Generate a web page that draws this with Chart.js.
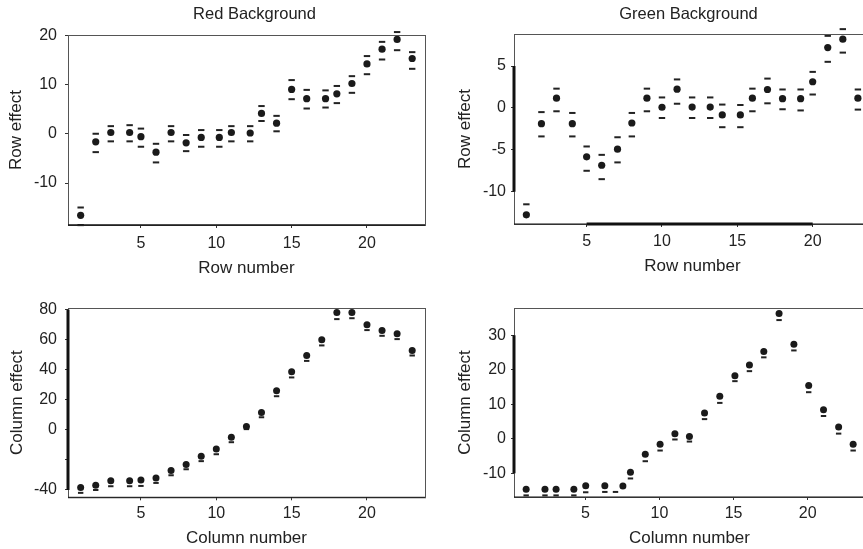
<!DOCTYPE html>
<html>
<head>
<meta charset="utf-8">
<script src="https://cdn.jsdelivr.net/npm/chart.js@4.4.0/dist/chart.umd.min.js"></script>
<style>
  html, body { margin: 0; padding: 0; background: #fff; }
  body { width: 863px; height: 549px; position: relative; overflow: hidden; }
  .panel { position: absolute; }
</style>
</head>
<body>
<div class="panel" style="left:0;top:0;width:509px;height:280px"><canvas id="rowRed"></canvas></div>
<div class="panel" style="left:430px;top:0;width:517px;height:280px"><canvas id="rowGreen"></canvas></div>
<div class="panel" style="left:0;top:280px;width:431px;height:269px"><canvas id="colRed"></canvas></div>
<div class="panel" style="left:430px;top:280px;width:441px;height:269px"><canvas id="colGreen"></canvas></div>
<script>
// tick values shared by all x axes
const xTicks = [5, 10, 15, 20];

// Red background, row effects (dot, upper and lower bound dashes)
const rowRedX = [1, 2, 3, 4.25, 5, 6, 7, 8, 9, 10.2, 11, 12.25, 13, 14, 15, 16, 17.25, 18, 19, 20, 21, 22, 23];
const rowRedEffect = [-16.6, -1.6, 0.3, 0.3, -0.55, -3.7, 0.3, -1.8, -0.7, -0.7, 0.3, 0.2, 4.2, 2.2, 9.1, 7.2, 7.2, 8.2, 10.3, 14.3, 17.3, 19.3, 15.4];
const rowRedUpper = [-15.0, 0.05, 1.6, 1.8, 1.1, -2.0, 1.6, -0.2, 0.8, 0.8, 1.6, 1.6, 5.7, 3.7, 11.0, 9.0, 8.9, 9.8, 11.8, 15.9, 18.8, 20.8, 16.7];
const rowRedLower = [-18.6, -3.7, -1.5, -1.5, -2.6, -5.8, -1.5, -3.5, -2.6, -2.6, -1.5, -1.5, 2.65, 0.55, 7.1, 5.2, 5.4, 6.3, 8.4, 12.2, 15.2, 17.1, 13.3];
const rowRedYTicks = [-10, 0, 10, 20];

// Green background, row effects
const rowGreenX = [1, 2, 3, 4.05, 5, 6, 7.05, 8, 9, 10, 11, 12, 13.2, 14, 15.2, 16, 17, 18, 19.2, 20, 21, 22, 23];
const rowGreenEffect = [-12.76, -1.88, 1.16, -1.88, -5.84, -6.84, -4.92, -1.8, 1.16, 0.08, 2.24, 0.1, 0.1, -0.84, -0.84, 1.16, 2.2, 1.1, 1.1, 3.12, 7.2, 8.2, 1.16];
const rowGreenUpper = [-11.5, -0.5, 2.3, -0.6, -4.6, -5.6, -3.5, -0.6, 2.3, 1.25, 3.4, 1.25, 1.25, 0.4, 0.35, 2.3, 3.5, 2.2, 2.2, 4.3, 8.6, 9.4, 2.2];
const rowGreenLower = [-14.6, -3.4, -0.4, -3.4, -7.5, -8.5, -6.5, -3.4, -0.4, -1.2, 0.5, -1.2, -1.2, -2.3, -2.3, -0.4, 0.55, -0.16, -0.3, 1.6, 5.5, 6.6, -0.2];
const rowGreenYTicks = [-10, -5, 0, 5];

// Red background, column effects
const colRedX = [1, 2, 3, 4.25, 5, 6, 7, 8, 9, 10, 11, 12, 13, 14, 15, 16, 17, 18, 19, 20, 21, 22, 23];
const colRedEffect = [-38.4, -36.8, -33.9, -33.9, -33.3, -32.1, -27.0, -23.0, -17.5, -12.8, -4.9, 2.3, 11.6, 26.0, 38.6, 49.5, 59.9, 78.1, 78.1, 69.9, 66.1, 63.9, 52.8];
const colRedLower = [-41.9, -40.0, -37.5, -37.5, -37.3, -35.3, -30.2, -26.2, -20.8, -16.2, -8.2, 0.5, 8.4, 22.4, 34.9, 45.9, 56.2, 73.7, 74.3, 66.4, 62.6, 60.4, 49.5];
const colRedYTicks = [-40, -20, 0, 20, 40, 60, 80];
const colRedYLabels = ["-40", "", "0", "20", "40", "60", "80"];

// Green background, column effects
const colGreenX = [1, 2.27, 3.02, 4.22, 5.02, 6.31, 7.53, 8.04, 9.04, 10.04, 11.04, 12.02, 13.04, 14.07, 15.09, 16.07, 17.04, 18.07, 19.07, 20.07, 21.07, 22.09, 23.07];
const colGreenEffect = [-14.6, -14.6, -14.6, -14.6, -13.6, -13.6, -13.7, -9.7, -4.5, -1.6, 1.45, 0.67, 7.5, 12.35, 18.3, 21.4, 25.3, 36.3, 27.4, 15.45, 8.4, 3.4, -1.6];
const colGreenLowerX = [1, 2.27, 3.02, 4.22, 5.02, 6.31, 7.03, 8.04, 9.04, 10.04, 11.04, 12.02, 13.04, 14.07, 15.09, 16.07, 17.04, 18.07, 19.07, 20.07, 21.07, 22.09, 23.07];
const colGreenLower = [-16.4, -16.4, -16.4, -16.4, -15.5, -15.4, -15.4, -11.5, -6.5, -3.4, -0.2, -0.8, 5.7, 10.4, 16.7, 19.6, 23.6, 34.4, 25.6, 13.5, 6.6, 1.5, -3.4];
const colGreenYTicks = [-10, 0, 10, 20, 30];

Chart.defaults.font.family = "'Liberation Sans', Arial, sans-serif";
Chart.defaults.color = "#222";

// box around the plot + heavier segment between the end ticks
const axisFrame = {
  id: "axisFrame",
  afterDraw(chart, args, opts) {
    const ctx = chart.ctx, a = chart.chartArea;
    const sx = chart.scales.x, sy = chart.scales.y;
    ctx.save();
    ctx.strokeStyle = "#555";
    ctx.lineWidth = 1;
    ctx.strokeRect(a.left + 0.5, a.top + 0.5, a.width, a.height);
    ctx.strokeStyle = "#111";
    ctx.lineWidth = opts.bottomW || 1;
    ctx.beginPath();
    ctx.moveTo(a.left, a.bottom);
    ctx.lineTo(a.right, a.bottom);
    ctx.stroke();
    ctx.lineWidth = 3;
    if (opts.thickY) {
      const t = sy.ticks;
      ctx.beginPath();
      ctx.moveTo(a.left, sy.getPixelForValue(t[0].value));
      ctx.lineTo(a.left, sy.getPixelForValue(t[t.length - 1].value));
      ctx.stroke();
    }
    if (opts.thickX) {
      const t = sx.ticks;
      ctx.beginPath();
      ctx.moveTo(sx.getPixelForValue(t[0].value), a.bottom);
      ctx.lineTo(sx.getPixelForValue(t[t.length - 1].value), a.bottom);
      ctx.stroke();
    }
    ctx.restore();
  }
};
Chart.register(axisFrame);

function pts(xs, ys) {
  return xs.map(function (x, i) { return { x: x, y: ys[i] }; });
}

function makePanel(id, p) {
  var datasets = [{
    data: pts(p.x, p.effect),
    pointStyle: "circle",
    pointRadius: p.dotR,
    pointBackgroundColor: "#1a1a1a",
    pointBorderWidth: 0,
    clip: false
  }];
  if (p.upper) {
    datasets.push({
      data: pts(p.x, p.upper),
      pointStyle: "line", pointRadius: p.dashR,
      pointBorderColor: "#222", pointBorderWidth: 2, clip: false
    });
  }
  datasets.push({
    data: pts(p.lowerX || p.x, p.lower),
    pointStyle: "line", pointRadius: p.dashR,
    pointBorderColor: "#222", pointBorderWidth: 2, clip: false
  });

  var scales = {
    x: {
      type: "linear", min: p.xMin, max: p.xMax,
      afterBuildTicks: function (s) { s.ticks = xTicks.map(function (v) { return { value: v }; }); },
      grid: { drawOnChartArea: false, tickLength: 3, color: "#333" },
      border: { display: false },
      ticks: { font: { size: 16 }, padding: p.xPad, maxRotation: 0, autoSkip: false,
        callback: function (v) { return String(v); } },
      title: { display: true, text: p.xTitle, font: { size: 17 }, padding: { top: 0, bottom: p.xTitlePad } },
      afterFit: function (s) { s.height = p.xH; }
    },
    y: {
      type: "linear", min: p.yMin, max: p.yMax,
      afterBuildTicks: function (s) { s.ticks = p.yTicks.map(function (v) { return { value: v }; }); },
      grid: { drawOnChartArea: false, tickLength: 3, color: "#333" },
      border: { display: false },
      ticks: { font: { size: 16 }, padding: p.yPad, autoSkip: false,
        callback: function (v, i) { return p.yLabels ? p.yLabels[i] : String(v); } },
      title: { display: true, text: p.yTitle, font: { size: 17 }, padding: { top: p.yTitlePad, bottom: 0 } },
      afterFit: function (s) { s.width = p.yW; }
    }
  };
  if (p.rightW) {
    // empty box on the right so the centred title sits where the original has it
    scales.pad = {
      type: "linear", position: "right", display: true,
      grid: { display: false }, border: { display: false }, ticks: { display: false },
      afterFit: function (s) { s.width = p.rightW; }
    };
  }

  return new Chart(document.getElementById(id), {
    type: "scatter",
    data: { datasets: datasets },
    options: {
      responsive: true,
      maintainAspectRatio: false,
      animation: false,
      layout: { padding: p.padding },
      scales: scales,
      plugins: {
        legend: { display: false },
        tooltip: { enabled: false },
        title: p.title ? {
          display: true, text: p.title, color: "#222",
          font: { size: 16.5, weight: "normal" },
          padding: { top: 4.6, bottom: p.titleBottom }
        } : { display: false },
        axisFrame: p.frame
      }
    }
  });
}

makePanel("rowRed", {
  x: rowRedX, effect: rowRedEffect, upper: rowRedUpper, lower: rowRedLower,
  yTicks: rowRedYTicks, xMin: 0.16, xMax: 23.85, yMin: -18.57, yMax: 20.2,
  title: "Red Background", titleBottom: 10.6,
  xTitle: "Row number", yTitle: "Row effect",
  yW: 68, rightW: 84, xH: 55, xPad: 6, yPad: 8, xTitlePad: 1.8, yTitlePad: 6,
  padding: { top: 0, right: 0, bottom: 0, left: 0 },
  dotR: 3.6, dashR: 3.2, frame: { thickX: false, thickY: false, bottomW: 1.6 }
});

makePanel("rowGreen", {
  x: rowGreenX, effect: rowGreenEffect, upper: rowGreenUpper, lower: rowGreenLower,
  yTicks: rowGreenYTicks, xMin: 0.18, xMax: 23.87, yMin: -13.85, yMax: 8.82,
  title: "Green Background", titleBottom: 9.6,
  xTitle: "Row number", yTitle: "Row effect",
  yW: 84, rightW: 76, xH: 56, xPad: 4.6, yPad: 5, xTitlePad: 3.5, yTitlePad: 25.3,
  padding: { top: 0, right: 0, bottom: 0, left: 0 },
  dotR: 3.6, dashR: 3.2, frame: { thickX: true, thickY: true, bottomW: 1 }
});

makePanel("colRed", {
  x: colRedX, effect: colRedEffect, lower: colRedLower,
  yTicks: colRedYTicks, yLabels: colRedYLabels,
  xMin: 0.16, xMax: 23.85, yMin: -44.86, yMax: 81.1,
  xTitle: "Column number", yTitle: "Column effect",
  yW: 68, xH: 51.7, xPad: 3.3, yPad: 8, xTitlePad: 0.8, yTitlePad: 6.8,
  padding: { top: 28, right: 6, bottom: 0, left: 0 },
  dotR: 3.5, dashR: 2.7, frame: { thickX: false, thickY: true, bottomW: 1 }
});

makePanel("colGreen", {
  x: colGreenX, effect: colGreenEffect, lowerX: colGreenLowerX, lower: colGreenLower,
  yTicks: colGreenYTicks, xMin: 0.18, xMax: 23.87, yMin: -16.87, yMax: 37.9,
  xTitle: "Column number", yTitle: "Column effect",
  yW: 84, xH: 52, xPad: 3.6, yPad: 5, xTitlePad: 0.8, yTitlePad: 25.6,
  padding: { top: 28, right: 0, bottom: 0, left: 0 },
  dotR: 3.5, dashR: 2.7, frame: { thickX: false, thickY: true, bottomW: 1 }
});
</script>
</body>
</html>
